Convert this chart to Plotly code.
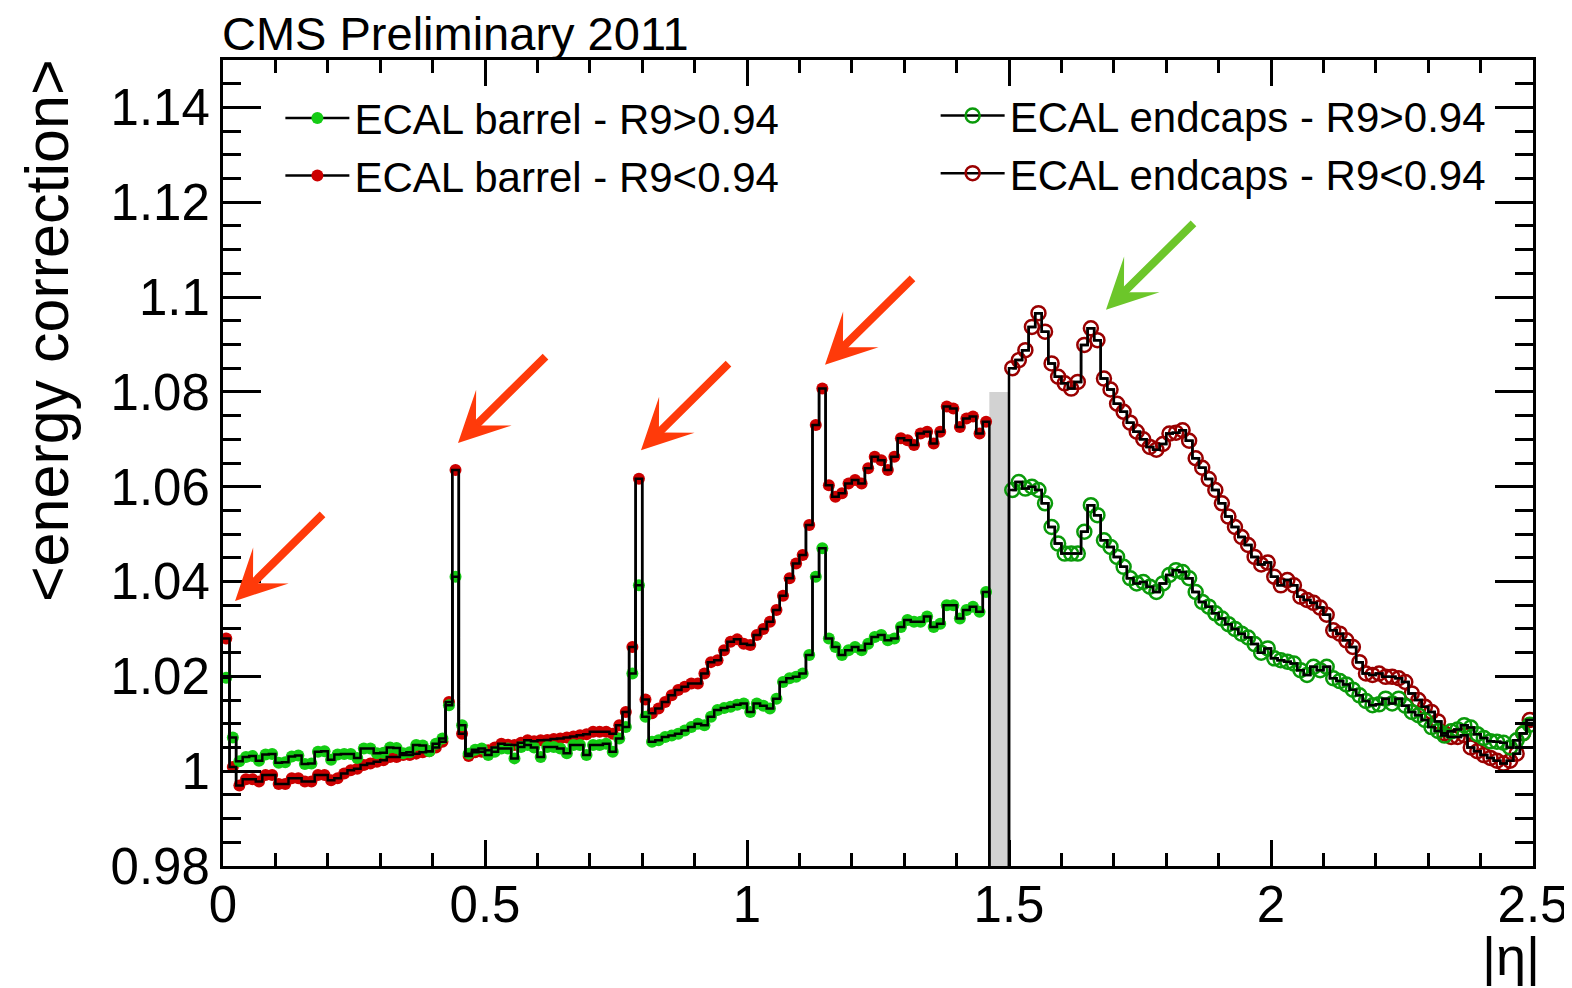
import numpy as np
import plotly.graph_objects as go

# ---------------- data ----------------
BIN_WIDTH = 0.0125          # |eta| bin width
BARREL_START = 0.0          # first barrel bin edge
ENDCAP_START = 1.5          # first endcap bin edge
Y_MIN, Y_MAX = 0.98, 1.15
X_MIN, X_MAX = 0.0, 2.5

# ECAL barrel, R9 > 0.94 (green filled)
barrel_r9_high = [
    1.0197, 1.0071, 1.0021, 1.0030, 1.0032, 1.0022, 1.0035, 1.0036, 1.0018, 1.0019,
    1.0031, 1.0033, 1.0015, 1.0016, 1.0041, 1.0042, 1.0024, 1.0035, 1.0036, 1.0036,
    1.0028, 1.0048, 1.0048, 1.0038, 1.0039, 1.0050, 1.0049, 1.0038, 1.0040, 1.0055,
    1.0054, 1.0042, 1.0058, 1.0069, 1.0139, 1.0410, 1.0097, 1.0037, 1.0045, 1.0048,
    1.0034, 1.0041, 1.0048, 1.0048, 1.0027, 1.0051, 1.0055, 1.0050, 1.0030, 1.0051,
    1.0051, 1.0048, 1.0038, 1.0055, 1.0055, 1.0034, 1.0055, 1.0055, 1.0058, 1.0041,
    1.0069, 1.0093, 1.0206, 1.0392, 1.0115, 1.0062, 1.0065, 1.0072, 1.0075, 1.0079,
    1.0086, 1.0093, 1.0100, 1.0097, 1.0115, 1.0129, 1.0133, 1.0136, 1.0140, 1.0143,
    1.0125, 1.0143, 1.0138, 1.0132, 1.0153, 1.0188, 1.0196, 1.0199, 1.0206, 1.0245,
    1.0410, 1.0470, 1.0280, 1.0262, 1.0245, 1.0255, 1.0262, 1.0255, 1.0269, 1.0283,
    1.0287, 1.0276, 1.0280, 1.0304, 1.0319, 1.0315, 1.0315, 1.0326, 1.0304, 1.0311,
    1.0350, 1.0350, 1.0322, 1.0340, 1.0347, 1.0336, 1.0378,
]

# ECAL barrel, R9 < 0.94 (red filled)
barrel_r9_low = [
    1.0280, 1.0009, 0.9970, 0.9983, 0.9983, 0.9978, 0.9992, 0.9992, 0.9973, 0.9973,
    0.9985, 0.9985, 0.9978, 0.9978, 0.9992, 0.9992, 0.9981, 0.9985, 0.9995, 1.0002,
    1.0005, 1.0013, 1.0016, 1.0020, 1.0023, 1.0030, 1.0030, 1.0034, 1.0034, 1.0037,
    1.0040, 1.0042, 1.0050, 1.0062, 1.0146, 1.0635, 1.0079, 1.0032, 1.0040, 1.0041,
    1.0044, 1.0050, 1.0058, 1.0056, 1.0055, 1.0060, 1.0065, 1.0063, 1.0065, 1.0066,
    1.0068, 1.0069, 1.0071, 1.0073, 1.0076, 1.0078, 1.0083, 1.0083, 1.0083, 1.0079,
    1.0097, 1.0125, 1.0262, 1.0617, 1.0151, 1.0122, 1.0132, 1.0146, 1.0160, 1.0171,
    1.0178, 1.0185, 1.0185, 1.0206, 1.0230, 1.0234, 1.0255, 1.0273, 1.0278, 1.0269,
    1.0266, 1.0287, 1.0300, 1.0315, 1.0340, 1.0370, 1.0407, 1.0438, 1.0456, 1.0519,
    1.0730, 1.0807, 1.0603, 1.0579, 1.0586, 1.0607, 1.0614, 1.0607, 1.0639, 1.0663,
    1.0656, 1.0635, 1.0663, 1.0702, 1.0698, 1.0688, 1.0712, 1.0716, 1.0691, 1.0716,
    1.0769, 1.0765, 1.0726, 1.0744, 1.0748, 1.0712, 1.0737,
]

# ECAL endcaps, R9 > 0.94 (green open)
endcap_r9_high = [
    1.0593, 1.0610, 1.0596, 1.0600, 1.0593, 1.0565, 1.0515, 1.0480, 1.0459, 1.0459,
    1.0459, 1.0505, 1.0561, 1.0540, 1.0487, 1.0473, 1.0452, 1.0431, 1.0407, 1.0396,
    1.0399, 1.0389, 1.0378, 1.0396, 1.0414, 1.0424, 1.0420, 1.0407, 1.0378, 1.0357,
    1.0347, 1.0333, 1.0322, 1.0310, 1.0300, 1.0290, 1.0282, 1.0268, 1.0250, 1.0259,
    1.0238, 1.0234, 1.0231, 1.0227, 1.0213, 1.0203, 1.0220, 1.0213, 1.0220, 1.0196,
    1.0190, 1.0183, 1.0172, 1.0160, 1.0148, 1.0139, 1.0141, 1.0153, 1.0143, 1.0153,
    1.0138, 1.0125, 1.0118, 1.0108, 1.0093, 1.0085, 1.0075, 1.0084, 1.0088, 1.0097,
    1.0092, 1.0078, 1.0070, 1.0063, 1.0062, 1.0060, 1.0050, 1.0065, 1.0080, 1.0098,
]

# ECAL endcaps, R9 < 0.94 (dark red open)
endcap_r9_low = [
    1.0850, 1.0867, 1.0888, 1.0937, 1.0966, 1.0927, 1.0860, 1.0832, 1.0818, 1.0807,
    1.0821, 1.0899, 1.0934, 1.0909, 1.0828, 1.0805, 1.0775, 1.0758, 1.0735, 1.0716,
    1.0700, 1.0684, 1.0678, 1.0690, 1.0712, 1.0714, 1.0719, 1.0697, 1.0660, 1.0640,
    1.0616, 1.0593, 1.0565, 1.0537, 1.0515, 1.0494, 1.0477, 1.0452, 1.0436, 1.0440,
    1.0410, 1.0392, 1.0403, 1.0392, 1.0368, 1.0361, 1.0355, 1.0345, 1.0330, 1.0297,
    1.0290, 1.0276, 1.0262, 1.0230, 1.0206, 1.0203, 1.0206, 1.0199, 1.0199, 1.0196,
    1.0188, 1.0164, 1.0150, 1.0136, 1.0125, 1.0105, 1.0080, 1.0072, 1.0072, 1.0076,
    1.0050, 1.0042, 1.0034, 1.0028, 1.0022, 1.0016, 1.0022, 1.0037, 1.0080, 1.0108,
]

# barrel/endcap transition band (|eta| range and height)
crack_eta = [1.4625, 1.5]
crack_top = 1.08

x_tick_vals = [0, 0.5, 1, 1.5, 2, 2.5]
x_tick_text = ["0", "0.5", "1", "1.5", "2", "2.5"]
y_tick_vals = [0.98, 1.00, 1.02, 1.04, 1.06, 1.08, 1.10, 1.12, 1.14]
y_tick_text = ["0.98", "1", "1.02", "1.04", "1.06", "1.08", "1.1", "1.12", "1.14"]

# arrows: (eta, correction) of the tip, and colour
arrow_tips = [(0.023, 1.0359), (0.4485, 1.0692), (0.7977, 1.0677), (1.1489, 1.0857), (1.6851, 1.0973)]
arrow_colors = ["#ff3a0a", "#ff3a0a", "#ff3a0a", "#ff3a0a", "#6cc62a"]

# ---------------- styling ----------------
FONT = "Liberation Sans, Arial, Helvetica, sans-serif"
C_GREEN_B = "#14cc14"
C_RED_B = "#cc0000"
C_GREEN_E = "#0a9a0a"
C_RED_E = "#9a0000"


def centers(start, n):
    return start + (np.arange(n) + 0.5) * BIN_WIDTH


series = [
    dict(name="ECAL barrel - R9&lt;0.94", vals=barrel_r9_low, start=BARREL_START, kind="barrel",
         marker=dict(symbol="circle", size=12, color=C_RED_B, line=dict(width=0)), legend="legend", rank=2),
    dict(name="ECAL barrel - R9&gt;0.94", vals=barrel_r9_high, start=BARREL_START, kind="barrel",
         marker=dict(symbol="circle", size=12, color=C_GREEN_B, line=dict(width=0)), legend="legend", rank=1),
    dict(name="ECAL endcaps - R9&lt;0.94", vals=endcap_r9_low, start=ENDCAP_START, kind="endcap",
         marker=dict(symbol="circle-open", size=14, color=C_RED_E, line=dict(width=2.5, color=C_RED_E)),
         legend="legend2", rank=2),
    dict(name="ECAL endcaps - R9&gt;0.94", vals=endcap_r9_high, start=ENDCAP_START, kind="endcap",
         marker=dict(symbol="circle-open", size=14, color=C_GREEN_E, line=dict(width=2.5, color=C_GREEN_E)),
         legend="legend2", rank=1),
]

fig = go.Figure()

# crack band
fig.add_shape(type="rect", xref="x", yref="y", x0=crack_eta[0], x1=crack_eta[1], y0=Y_MIN, y1=crack_top,
              fillcolor="#d2d2d2", line=dict(width=0), layer="below")

# markers (with legend entries)
for s in series:
    xc = centers(s["start"], len(s["vals"]))
    fig.add_trace(go.Scatter(
        x=xc, y=s["vals"], mode="lines+markers", name=s["name"],
        line=dict(color="black", width=2.5, shape="hvh"),
        marker=s["marker"], legend=s["legend"], legendrank=s["rank"], hoverinfo="skip",
    ))

# black histogram outline on top
for s in series:
    v = list(s["vals"])
    n = len(v)
    xc = list(centers(s["start"], n))
    lo = s["start"]
    hi = s["start"] + n * BIN_WIDTH
    if s["kind"] == "barrel":
        xs = [lo] + xc + [hi, hi]
        ys = [v[0]] + v + [v[-1], Y_MIN]
    else:
        xs = [lo, lo] + xc + [hi]
        ys = [Y_MIN, v[0]] + v + [v[-1]]
    fig.add_trace(go.Scatter(x=xs, y=ys, mode="lines", showlegend=False, hoverinfo="skip",
                             line=dict(color="black", width=2.5, shape="hvh")))

annotations = [
    dict(text="CMS Preliminary 2011", xref="paper", yref="paper", x=0, y=1, xanchor="left", yanchor="bottom",
         showarrow=False, font=dict(size=47, family=FONT, color="black"), xshift=-3, yshift=-2),
    dict(text="&lt;energy correction&gt;", xref="paper", yref="paper", x=-0.1313, y=0.6625,
         xanchor="center", yanchor="middle", textangle=-90, showarrow=False, xshift=-4, yshift=2,
         font=dict(size=61, family=FONT, color="black")),
    dict(text="|η|", xref="paper", yref="paper", x=1, y=-0.1514, xanchor="right", yanchor="bottom",
         showarrow=False, font=dict(size=54, family=FONT, color="black"), xshift=9),
]
for (ax_, ay_), col in zip(arrow_tips, arrow_colors):
    annotations.append(dict(x=ax_, y=ay_, xref="x", yref="y", ax=89, ay=-88, axref="pixel", ayref="pixel",
                            showarrow=True, arrowhead=3, arrowwidth=8, arrowsize=1.05, arrowcolor=col, text=""))

axis_common = dict(showline=True, linewidth=3, linecolor="black", mirror="allticks", ticks="inside",
                   tickwidth=3, tickcolor="black", showgrid=False, zeroline=False, automargin=False,
                   tickfont=dict(size=51, family=FONT, color="black"))

fig.update_xaxes(range=[X_MIN, X_MAX], tickmode="array", tickvals=x_tick_vals, ticktext=x_tick_text,
                 ticklen=26, ticklabelstandoff=-8,
                 minor=dict(ticks="inside", ticklen=13, tickwidth=3, tickcolor="black", dtick=0.1, tick0=0,
                            showgrid=False),
                 **axis_common)
fig.update_yaxes(range=[Y_MIN, Y_MAX], tickmode="array", tickvals=y_tick_vals, ticktext=y_tick_text,
                 ticklen=38, ticklabelstandoff=0,
                 minor=dict(ticks="inside", ticklen=18, tickwidth=3, tickcolor="black", dtick=0.005, tick0=0.98,
                            showgrid=False),
                 **axis_common)

# the page body adds an 8 px margin, so the figure is 8 px smaller than the window
fig.update_layout(
    width=1564, height=980,
    margin=dict(l=215, r=39, t=52, b=122, autoexpand=False),
    paper_bgcolor="white", plot_bgcolor="white",
    font=dict(family=FONT, size=42, color="black"),
    annotations=annotations,
    showlegend=True,
    legend=dict(x=0.0438, y=0.970, xanchor="left", yanchor="top", bgcolor="rgba(0,0,0,0)",
                font=dict(size=42, family=FONT), itemwidth=64, tracegroupgap=0),
    legend2=dict(x=0.5440, y=0.973, xanchor="left", yanchor="top", bgcolor="rgba(0,0,0,0)",
                 font=dict(size=42, family=FONT), itemwidth=64, tracegroupgap=0),
)

fig.write_html("out.html")
